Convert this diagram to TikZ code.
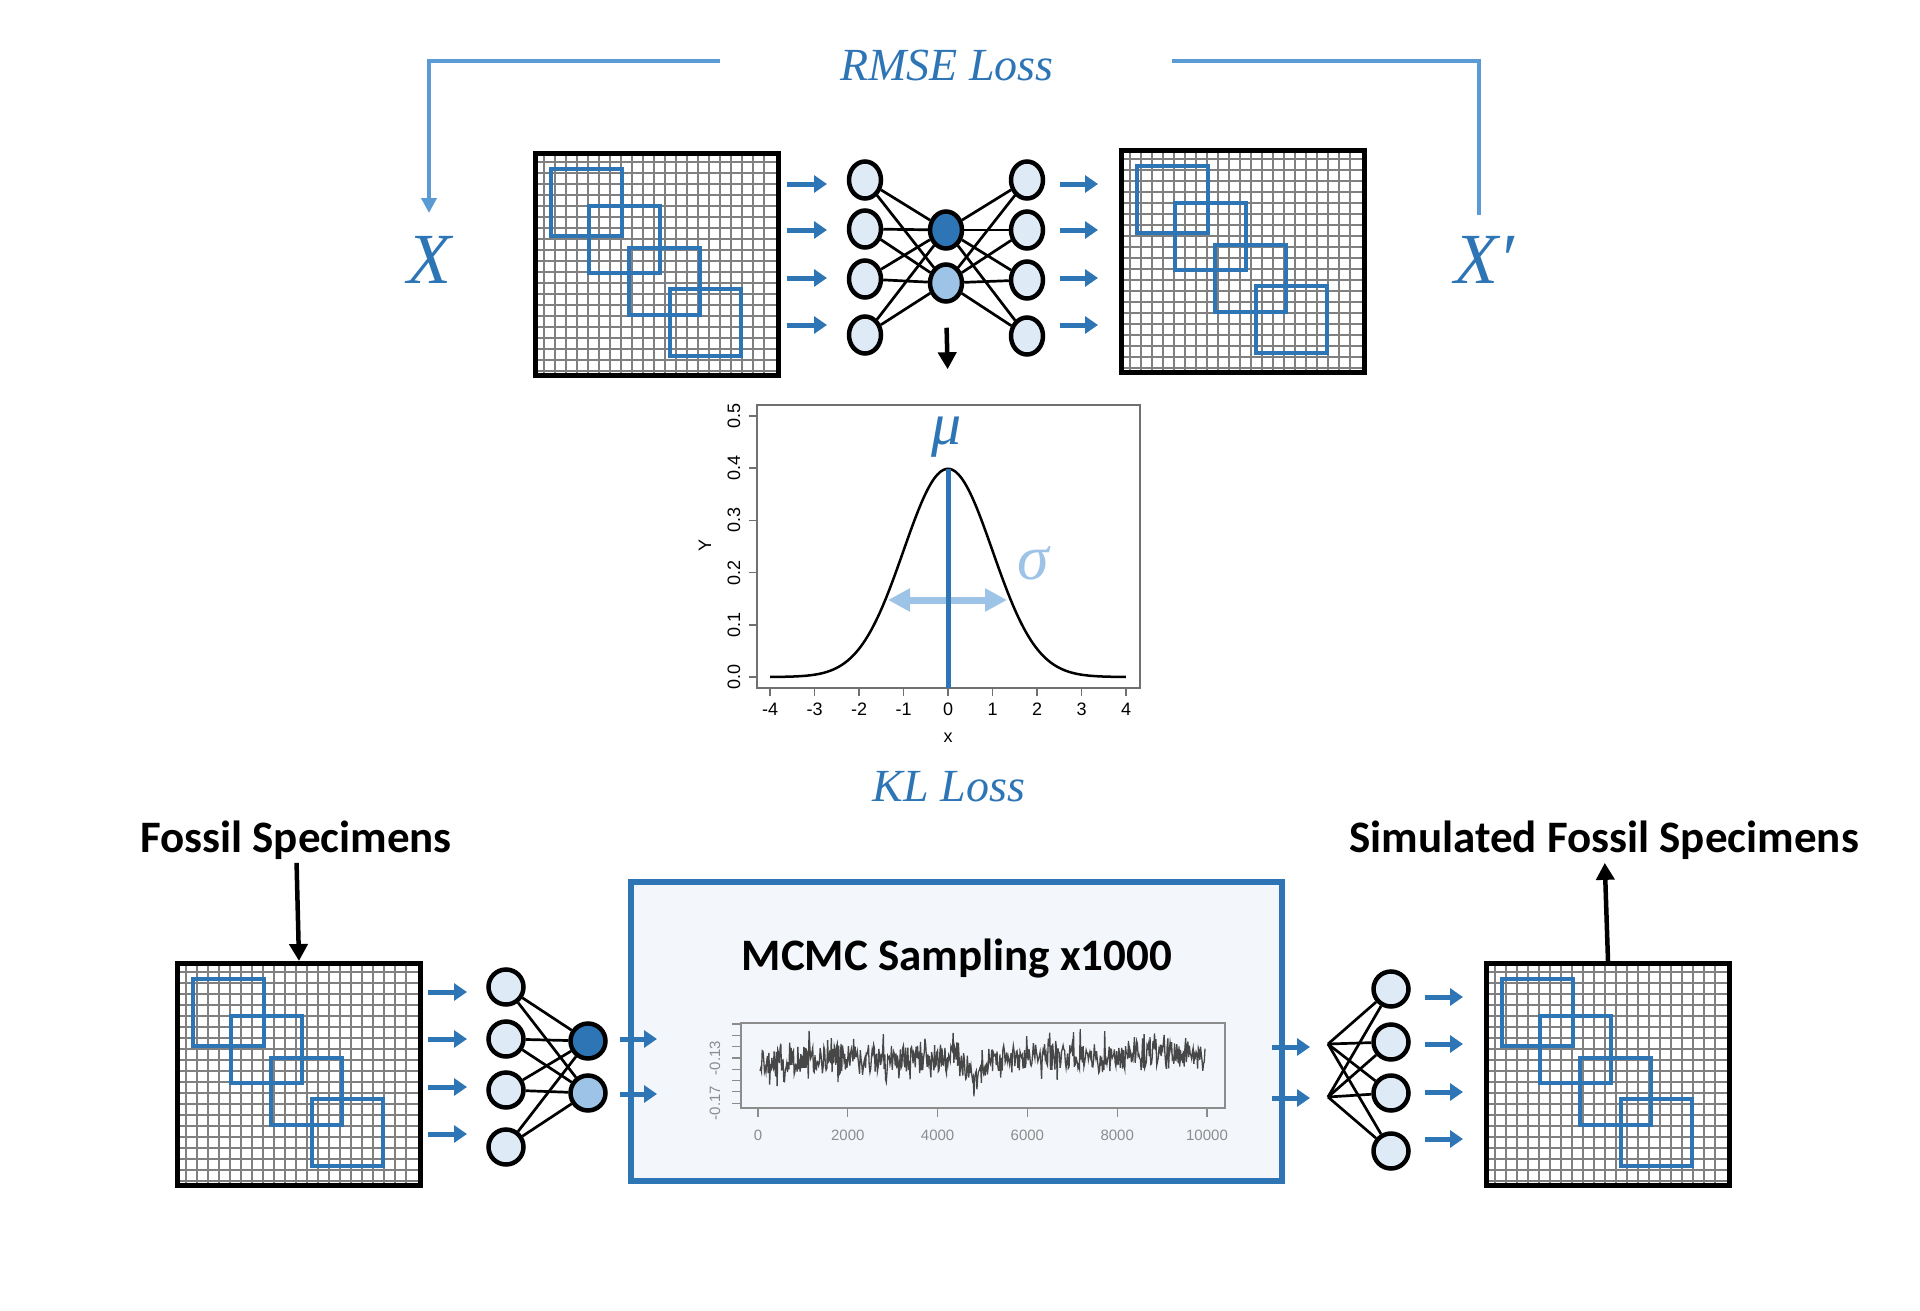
\documentclass[tikz,border=0pt]{standalone}
\usepackage{fontspec}
\setmainfont{Liberation Serif}
\newfontfamily\calfont{Carlito}
\newfontfamily\plotfont{Liberation Sans}
\usetikzlibrary{arrows.meta, shapes.geometric}

\begin{document}
\begin{tikzpicture}[x=1pt, y=-1pt,
  gridline/.style={draw=gridgray, line width=1.4pt},
  fossilsq/.style={draw=vaeblue, line width=4pt},
  imgbox/.style={draw=black, line width=5pt, inner sep=0pt, anchor=north west,
    minimum width=243pt, minimum height=222pt},
  flow/.style={draw=vaeblue, line width=5pt, -{Triangle[length=13pt,width=17pt]}},
  unit/.style={circle, draw=black, line width=4.5pt, fill=unitfill, minimum size=35pt, inner sep=0pt},
  topunit/.style={ellipse, draw=black, line width=4.5pt, fill=unitfill, minimum width=32pt,
    minimum height=37pt, inner sep=0pt},
  wire/.style={draw=black, line width=2.7pt},
  lossline/.style={draw=losslight, line width=4.5pt},
  losstext/.style={text=vaeblue, font=\itshape\fontsize{46}{50}\selectfont},
  heading/.style={font=\calfont\bfseries\fontsize{45}{54}\selectfont},
  blackarrow/.style={draw=black, line width=4.5pt, -{Triangle[length=17pt,width=18pt]}},
  axframe/.style={draw=axgray, line width=1.5pt},
  ticklabel/.style={font=\plotfont\fontsize{18}{20}\selectfont},
  tracelabel/.style={text=tracegray, font=\plotfont\fontsize{15}{17}\selectfont}]

  % 颜色
  \definecolor{vaeblue}{RGB}{46,117,182}
  \definecolor{losslight}{RGB}{91,155,213}
  \definecolor{sigmablue}{RGB}{157,195,230}
  \definecolor{unitfill}{RGB}{222,235,247}
  \definecolor{gridgray}{RGB}{128,128,128}
  \definecolor{axgray}{RGB}{112,112,112}
  \definecolor{tracegray}{RGB}{140,140,140}
  \definecolor{mcmcfill}{RGB}{243,247,252}

  \useasboundingbox (0,0) rectangle (1920,1311);

  % 标本图 (四个网格)
  \foreach \ox/\oy/\nm in {533/151/imgX, 1119/148/imgXr, 175/961/imgF, 1484/961/imgS}{
    \begin{scope}[shift={(\ox,\oy)}]
      \foreach \k in {1,...,21} \draw[gridline] (\k*11,0) -- (\k*11,222);
      \foreach \k in {1,...,20} \draw[gridline] (0,\k*11) -- (243,\k*11);
      \foreach \sx/\sy in {18/18, 56/55, 96/97, 137/138}
        \draw[fossilsq] (\sx,\sy) rectangle ++(71,67);
      \node[imgbox] (\nm) at (0,0) {};
    \end{scope}
  }

  % 第一部分：编码器-解码器
  \node[topunit] (e1) at (865,180) {};
  \node[topunit] (e2) at (865,229) {};
  \node[topunit] (e3) at (865,279) {};
  \node[topunit] (e4) at (865,335) {};
  \node[topunit, fill=vaeblue] (z1) at (946,230) {};
  \node[topunit, fill=sigmablue] (z2) at (946,283) {};
  \node[topunit] (d1) at (1027,180) {};
  \node[topunit] (d2) at (1027,230) {};
  \node[topunit] (d3) at (1027,280) {};
  \node[topunit] (d4) at (1027,336) {};
  \foreach \i in {1,...,4}
    \foreach \j in {1,2} {
      \draw[wire] (e\i) -- (z\j);
      \draw[wire] (z\j) -- (d\i);
    }

  \foreach \y in {184,230,278,325} {
    \draw[flow] (787,\y) -- (827,\y);
    \draw[flow] (1060,\y) -- (1098,\y);
  }

  % 损失
  \node[losstext] (rmse) at (947,65) {RMSE Loss};
  \node[text=vaeblue, font=\itshape\fontsize{72}{80}\selectfont] (xin) at (429,260) {X};
  \node[text=vaeblue, font=\itshape\fontsize{72}{80}\selectfont] (xout) at (1484,260) {X′};
  \coordinate (lossL) at (720,61);
  \coordinate (lossR) at (1172,61);
  \coordinate (xtop) at (429,213);
  \coordinate (xrtop) at (1479,215);
  \draw[lossline, -{Triangle[length=15pt,width=15pt]}] (lossL) -| (xtop);
  \draw[lossline] (lossR) -| (xrtop);

  % 正态分布
  \node[axframe, minimum width=383pt, minimum height=283pt, inner sep=0pt] (gauss) at (948.5,546.5) {};
  \draw[blackarrow, shorten <=24pt, shorten >=35pt] (z2.south) -- (gauss.north);
  \foreach \t in {-4,...,4} {
    \draw[axframe] ({948+44.5*\t},688) -- ({948+44.5*\t},696);
    \node[ticklabel] at ({948+44.5*\t},709) {\t};
  }
  \foreach \v/\lab in {0/0.0, 1/0.1, 2/0.2, 3/0.3, 4/0.4, 5/0.5} {
    \draw[axframe] (749,{677-52.2*\v}) -- (757,{677-52.2*\v});
    \node[ticklabel, rotate=90] at (734,{677-52.2*\v}) {\lab};
  }
  \node[ticklabel] at (948,738) {x};
  \node[ticklabel, rotate=90] at (705,545) {Y};
  \draw[line width=2.5pt] plot[domain=-4:4, samples=120, smooth] ({948+44.5*\x}, {677-208.2*exp(-0.5*\x*\x)});
  \draw[sigmablue, line width=7pt, {Triangle[length=22pt,width=22pt]}-{Triangle[length=22pt,width=22pt]}] (888,600) -- (1007,600);
  \draw[vaeblue, line width=5pt] (948,469) -- (948,688);
  \node[text=vaeblue, font=\itshape\fontsize{60}{64}\selectfont] (mu) at (947,437) {μ};
  \node[text=sigmablue, font=\itshape\fontsize{64}{68}\selectfont] (sigma) at (1033,563) {σ};
  \node[losstext] (kl) at (949,787) {KL Loss};

  % 第二部分：生成
  \node[heading] (fossil) at (296,840) {Fossil Specimens};
  \node[heading] (simfossil) at (1604,840) {Simulated Fossil Specimens};
  \draw[blackarrow] (fossil) -- (imgF.north);
  \draw[blackarrow] (imgS.north) -- (simfossil);

  \node[unit] (f1) at (506,987) {};
  \node[unit] (f2) at (506,1039) {};
  \node[unit] (f3) at (506,1090) {};
  \node[unit] (f4) at (506,1147) {};
  \node[unit, fill=vaeblue] (g1) at (588,1041) {};
  \node[unit, fill=sigmablue] (g2) at (588,1093) {};
  \foreach \i in {1,...,4}
    \foreach \j in {1,2}
      \draw[wire] (f\i) -- (g\j);

  \node[draw=vaeblue, line width=6pt, fill=mcmcfill, minimum width=651pt, minimum height=299pt,
    inner sep=0pt] (mcmc) at (956.5,1031.5) {};
  \node[heading] (mcmctitle) at (957,959) {MCMC Sampling x1000};

  \coordinate (s1) at (1328,1044);
  \coordinate (s2) at (1328,1097);
  \node[unit] (h1) at (1391,989) {};
  \node[unit] (h2) at (1391,1042) {};
  \node[unit] (h3) at (1391,1093) {};
  \node[unit] (h4) at (1391,1151) {};
  \foreach \i in {1,...,4}
    \foreach \j in {1,2}
      \draw[wire] (s\j) -- (h\i);

  \foreach \y in {992,1039,1087,1134} \draw[flow] (428,\y) -- (467,\y);
  \foreach \y in {1039,1094} \draw[flow] (620,\y) -- (657,\y);
  \foreach \y in {1047,1098} \draw[flow] (1272,\y) -- (1310,\y);
  \foreach \y in {997,1044,1092,1139} \draw[flow] (1425,\y) -- (1463,\y);

  % 轨迹图
  \draw[draw=tracegray, line width=1.5pt] (741,1023) rectangle (1225,1108);
  \foreach \k in {0,...,5} {
    \draw[draw=tracegray, line width=1.2pt] ({758+89.8*\k},1108) -- ({758+89.8*\k},1117);
  }
  \foreach \k/\lab in {0/0, 1/2000, 2/4000, 3/6000, 4/8000, 5/10000}
    \node[tracelabel] at ({758+89.8*\k},1135) {\lab};
  \foreach \k in {0,...,7}
    \draw[draw=tracegray, line width=1.2pt] (732,{1024+11.3*\k}) -- (741,{1024+11.3*\k});
  \node[tracelabel, rotate=90] at (715,1058) {-0.13};
  \node[tracelabel, rotate=90] at (715,1103) {-0.17};
  \pgfmathsetseed{17}
  \draw[draw=black!72, line width=1.3pt] plot[domain=760:1205, samples=600]
    (\x, {1060 - 6*(\x-758)/449 + 14*rand + 26*rand*rand*rand + 24*max(0,1-abs(\x-975)/14)});

\end{tikzpicture}
\end{document}
